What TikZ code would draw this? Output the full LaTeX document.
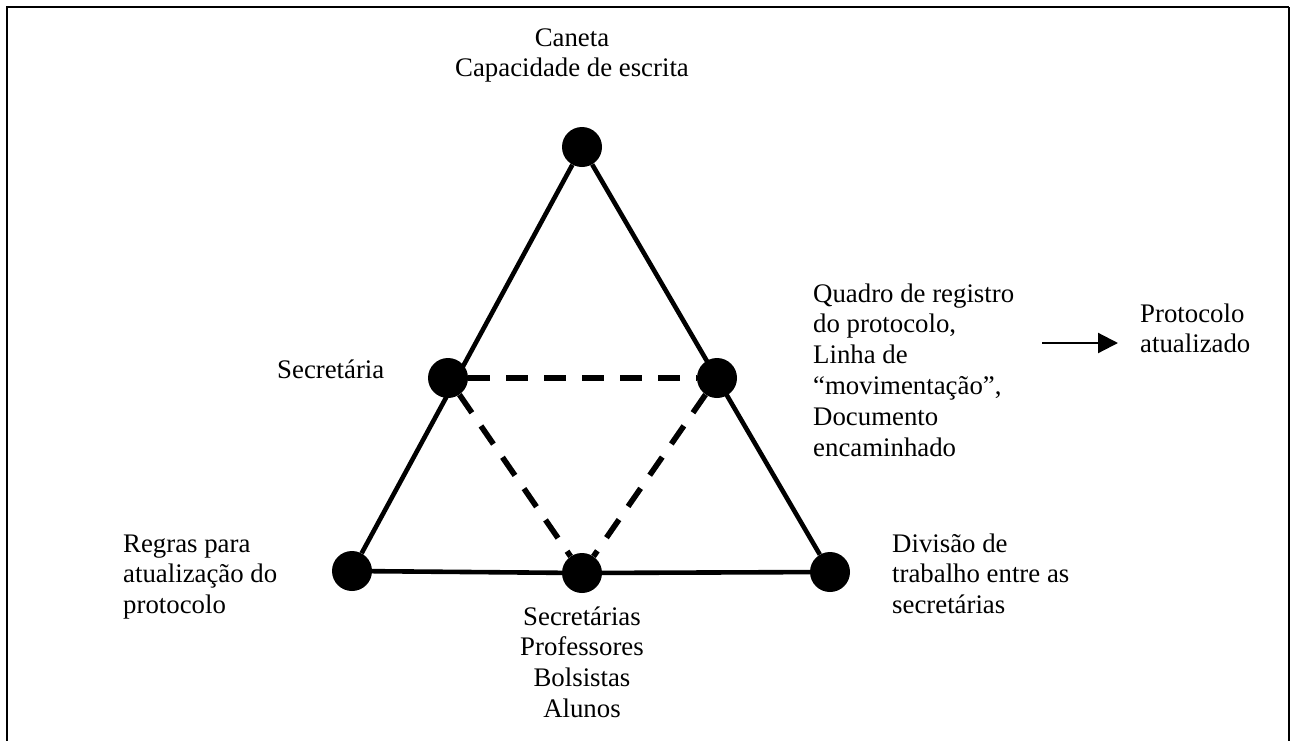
\documentclass[tikz,border=0pt]{standalone}
\usepackage{fontspec}
\setmainfont{Liberation Serif}
\usetikzlibrary{arrows.meta}
\newcommand\ctext[1]{\vtop{\halign{\hfil##\hfil\cr#1\crcr}}}
\newcommand\ltext[1]{\vtop{\halign{##\hfil\cr#1\crcr}}}
\tikzset{
  dot/.style={circle,fill=black,draw=none,minimum size=40pt,inner sep=0pt},
  lbl/.style={inner sep=0pt,font=\fontsize{26.8}{30.8}\selectfont},
  solidedge/.style={line width=4.6pt},
  dashedge/.style={line width=5.6pt,dash pattern=on 22pt off 16pt},
  frameline/.style={line width=2.6pt}
}
\begin{document}
\begin{tikzpicture}[x=1pt,y=-1pt]
\useasboundingbox (0,0) rectangle (1291,740);
\fill[white] (0,0) rectangle (1291,740);
% frame
\draw[frameline] (7,745) -- (7,7) -- (1289,7);
\draw[line width=1.6pt] (1289,7) -- (1289,745);
% dots
\node[dot] (top) at (582,147) {};
\node[dot] (sec) at (448,378) {};
\node[dot] (obj) at (717,378) {};
\node[dot] (bl) at (352,571) {};
\node[dot] (bm) at (582,573) {};
\node[dot] (br) at (830,572) {};
% edges
\draw[solidedge] (top) -- (bl);
\draw[solidedge] (top) -- (br);
\draw[solidedge] (bl) -- (bm);
\draw[solidedge] (bm) -- (br);
\draw[dashedge] (sec) -- (obj);
\draw[dashedge] (sec) -- (bm);
\draw[dashedge] (obj) -- (bm);
% labels
\node[lbl,anchor=base] (lt) at (572,46) {\ctext{Caneta\cr Capacidade de escrita}};
\node[lbl,anchor=base west] (ls) at (277,378) {Secretária};
\node[lbl,anchor=base west] (lq) at (813,302) {\ltext{Quadro de registro\cr do protocolo,\cr Linha de\cr “movimentação”,\cr Documento\cr encaminhado}};
\node[lbl,anchor=base west] (lp) at (1140,322) {\ltext{Protocolo\cr atualizado}};
\node[lbl,anchor=base west] (lr) at (123,552) {\ltext{Regras para\cr atualização do\cr protocolo}};
\node[lbl,anchor=base west] (ld) at (892,552) {\ltext{Divisão de\cr trabalho entre as\cr secretárias}};
\node[lbl,anchor=base] (lb) at (582,625) {\ctext{Secretárias\cr Professores\cr Bolsistas\cr Alunos}};
% arrow
\coordinate (a1) at (1042,343);
\coordinate (a2) at (1118,343);
\draw[line width=2.2pt,-{Triangle[length=20pt,width=20pt]}] (a1) -- (a2);
\end{tikzpicture}
\end{document}
